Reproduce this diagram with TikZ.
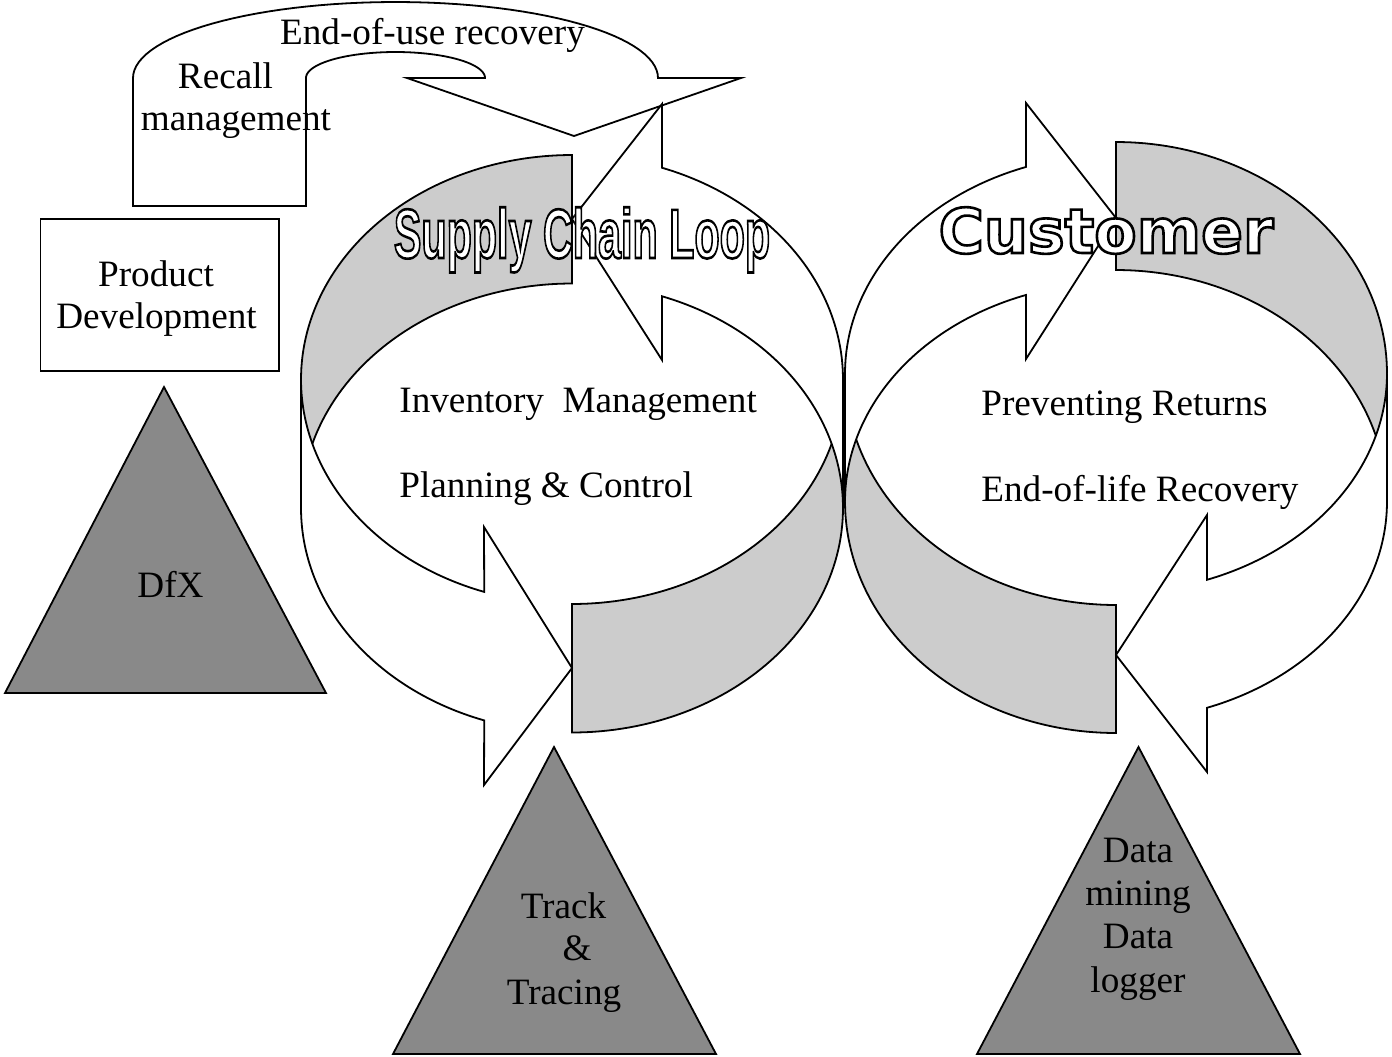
\documentclass[tikz,border=0pt]{standalone}
\usepackage{fontspec}
\setmainfont{Liberation Serif}
\newfontfamily\headsans{Liberation Sans}
\newfontfamily\headwide{DejaVu Sans}
\definecolor{backgray}{HTML}{CCCCCC}
\definecolor{pillargray}{HTML}{898989}

% hollow lettering: a white copy of the glyphs, then their outlines stroked
% in black on top (text render mode 1)
\newcommand\hollowtext[1]{%
  \rlap{\color{white}#1}%
  \special{pdf:literal direct 1 Tr 1.3 w}#1\special{pdf:literal direct 0 Tr}}

\begin{document}
\begin{tikzpicture}[x=0.5pt, y=-0.5pt, samples=60,
  outline/.style={draw=black, line width=0.9pt},
  band/.style={outline, fill=white},
  backband/.style={outline, fill=backgray},
  pillar/.style={outline, fill=pillargray},
  lbl/.style={font=\fontsize{18.6}{22}\selectfont, inner sep=0pt, anchor=base},
  lblw/.style={lbl, anchor=base west},
  looptitle/.style={inner sep=0pt, anchor=base, text=black}]

\useasboundingbox (0,0) rectangle (1392,1056);

% ---------- U-turn arrow across the top ----------
\filldraw[band] (133,206) -- (133,78)
  -- plot[domain=180:360] ({395.5+262.5*cos(\x)},{78+76*sin(\x)})
  -- (741,78) -- (574,136) -- (407,78) -- (485,78)
  -- plot[domain=0:-180] ({395.5+89.5*cos(\x)},{78+26*sin(\x)})
  -- (306,206) -- cycle;

% ---------- left loop (supply chain) ----------
% inner back face, upper left
\filldraw[backband]
  plot[domain=180:270] ({572+271*cos(\x)},{379.5+224.5*sin(\x)})
  -- plot[domain=270:180] ({572+271*cos(\x)},{508+224.5*sin(\x)}) -- cycle;
% outer front face, lower right
\filldraw[backband]
  plot[domain=90:0] ({572+271*cos(\x)},{379.5+224.5*sin(\x)})
  -- plot[domain=0:90] ({572+271*cos(\x)},{508+224.5*sin(\x)}) -- cycle;
% upper arrow, pointing left
\filldraw[band]
  plot[domain=0:-70.6] ({572+271*cos(\x)},{379.5+224.5*sin(\x)})
  -- (662,104) -- (572,219) -- (662,360)
  -- plot[domain=-70.6:0] ({572+271*cos(\x)},{508+224.5*sin(\x)}) -- cycle;
% lower arrow, pointing right
\filldraw[band]
  plot[domain=180:108.9] ({572+271*cos(\x)},{379.5+224.5*sin(\x)})
  -- (484,527) -- (572,668) -- (484,785)
  -- plot[domain=108.9:180] ({572+271*cos(\x)},{508+224.5*sin(\x)}) -- cycle;

% ---------- right loop (customer) ----------
% inner back face, upper right
\filldraw[backband]
  plot[domain=-90:0] ({1116+271*cos(\x)},{373.5+231.5*sin(\x)})
  -- plot[domain=0:-90] ({1116+271*cos(\x)},{501.5+231.5*sin(\x)}) -- cycle;
% outer front face, lower left
\filldraw[backband]
  plot[domain=90:180] ({1116+271*cos(\x)},{373.5+231.5*sin(\x)})
  -- plot[domain=180:90] ({1116+271*cos(\x)},{501.5+231.5*sin(\x)}) -- cycle;
% upper arrow, pointing right
\filldraw[band]
  plot[domain=180:250.6] ({1116+271*cos(\x)},{373.5+219*sin(\x)})
  -- (1026,103) -- (1116,218) -- (1026,359)
  -- plot[domain=250.6:180] ({1116+271*cos(\x)},{501.5+219*sin(\x)}) -- cycle;
% lower arrow, pointing left
\filldraw[band]
  plot[domain=0:70.4] ({1116+271*cos(\x)},{373.5+219*sin(\x)})
  -- (1207,515) -- (1116,655) -- (1207,772)
  -- plot[domain=70.4:0] ({1116+271*cos(\x)},{501.5+219*sin(\x)}) -- cycle;

% ---------- box and pillars ----------
\draw[outline, fill=white] (40.5,219) rectangle (279,371);
\filldraw[pillar] (164,387) -- (326,693) -- (5,693) -- cycle;
\filldraw[pillar] (554,747) -- (716,1054) -- (393,1054) -- cycle;
\filldraw[pillar] (1138.5,747) -- (1300,1054) -- (977,1054) -- cycle;

% ---------- labels ----------
\node[lbl] (eou) at (432.5,44) {End-of-use recovery};
\node[lbl] (recall) at (225.5,88) {Recall};
\node[lbl] (recallmgmt) at (236,130) {management};
\node[lbl] (prod) at (156,286) {Product};
\node[lbl] (proddev) at (156.5,328) {Development};
\node[lbl] (dfx) at (170.5,597.5) {DfX};

\node[lblw] (inv) at (399,412) {Inventory~ Management};
\node[lblw] (plan) at (399,497) {Planning \& Control};
\node[lblw] (prev) at (981,415) {Preventing Returns};
\node[lblw] (eol) at (981,501.7) {End-of-life Recovery};

\node[lbl] (track) at (563.5,918) {Track};
\node[lbl] (amp) at (577,960) {\&};
\node[lbl] (tracing) at (564,1004) {Tracing};

\node[lbl] (data1) at (1138,862) {Data};
\node[lbl] (mining) at (1138,905) {mining};
\node[lbl] (data2) at (1138,948) {Data};
\node[lbl] (logger) at (1138,992) {logger};

% ---------- loop titles ----------
\node[looptitle, xscale=0.59, font=\headsans\bfseries\fontsize{35}{40}\selectfont]
  (sctitle) at (582,258) {\hollowtext{Supply Chain Loop}};
\node[looptitle, font=\headwide\bfseries\fontsize{30.9}{36}\selectfont]
  (custtitle) at (1106,253) {\hollowtext{Customer}};

\end{tikzpicture}
\end{document}
